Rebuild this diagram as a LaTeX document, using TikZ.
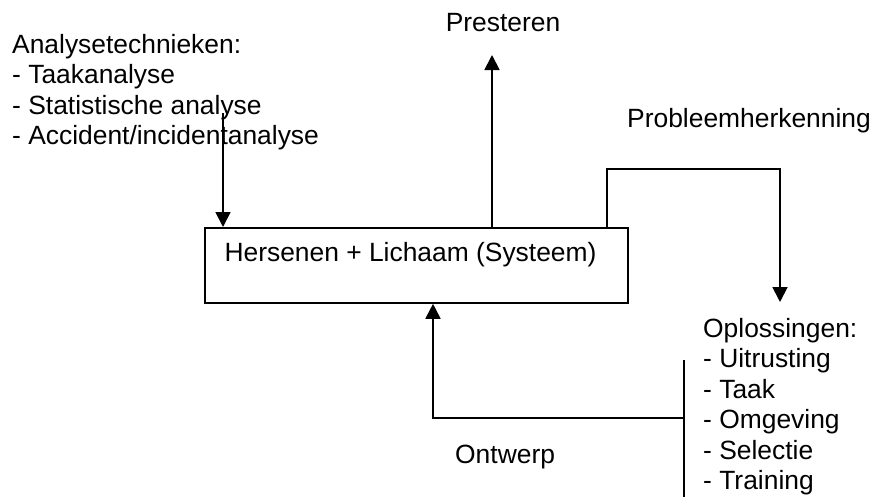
\documentclass[tikz,border=0pt]{standalone}
\usepackage{fontspec}
\setmainfont{Liberation Sans}
\usetikzlibrary{arrows.meta}
\tikzset{
  txt/.style={inner sep=0pt, font=\fontsize{26.4}{30.5}\selectfont, align=left},
  conn/.style={line width=1.8pt},
  arr/.style={conn, -{Triangle[length=15pt,width=15pt]}},
  sysbox/.style={draw, line width=1.8pt, inner sep=0pt, minimum width=423pt, minimum height=75pt, anchor=north west}
}
\begin{document}
\begin{tikzpicture}[x=1pt,y=-1pt]
\useasboundingbox (0,0) rectangle (875,498);
% texts (base anchor of a multi-line node = baseline of its last line)
\node[txt, anchor=base west] (ana) at (12,144.5) {Analysetechnieken:\\- Taakanalyse\\- Statistische analyse\\- Accident/incidentanalyse};
\node[txt, anchor=base] (pres) at (503,31) {Presteren};
\node[txt, anchor=base west] (prob) at (627,127) {Probleemherkenning};
\node[txt, anchor=base west] (opl) at (703,489.5) {Oplossingen:\\- Uitrusting\\- Taak\\- Omgeving\\- Selectie\\- Training};
\node[txt, anchor=base west] (ontw) at (455,463) {Ontwerp};
% system box
\node[sysbox] (sys) at (204,227) {};
\node[txt, anchor=base] (systxt) at (410.5,261) {Hersenen + Lichaam (Systeem)};
% connector coordinates
\coordinate (anaS) at (223,113);
\coordinate (presE) at (492,55);
\coordinate (probT) at (780,169);
\coordinate (oplE) at (780,302);
\coordinate (barT) at (684,360);
\coordinate (barB) at (684,497);
\coordinate (barJ) at (684,418);
\coordinate (ontC) at (433,418);
% connectors
\draw[arr] (anaS) -- (anaS |- sys.north);
\draw[arr] (presE |- sys.north) -- (presE);
\draw[arr] (607,0 |- sys.north) |- (probT) -- (oplE);
\draw[conn] (barT) -- (barB);
\draw[arr] (barJ) -- (ontC) -- (ontC |- sys.south);
\end{tikzpicture}
\end{document}
